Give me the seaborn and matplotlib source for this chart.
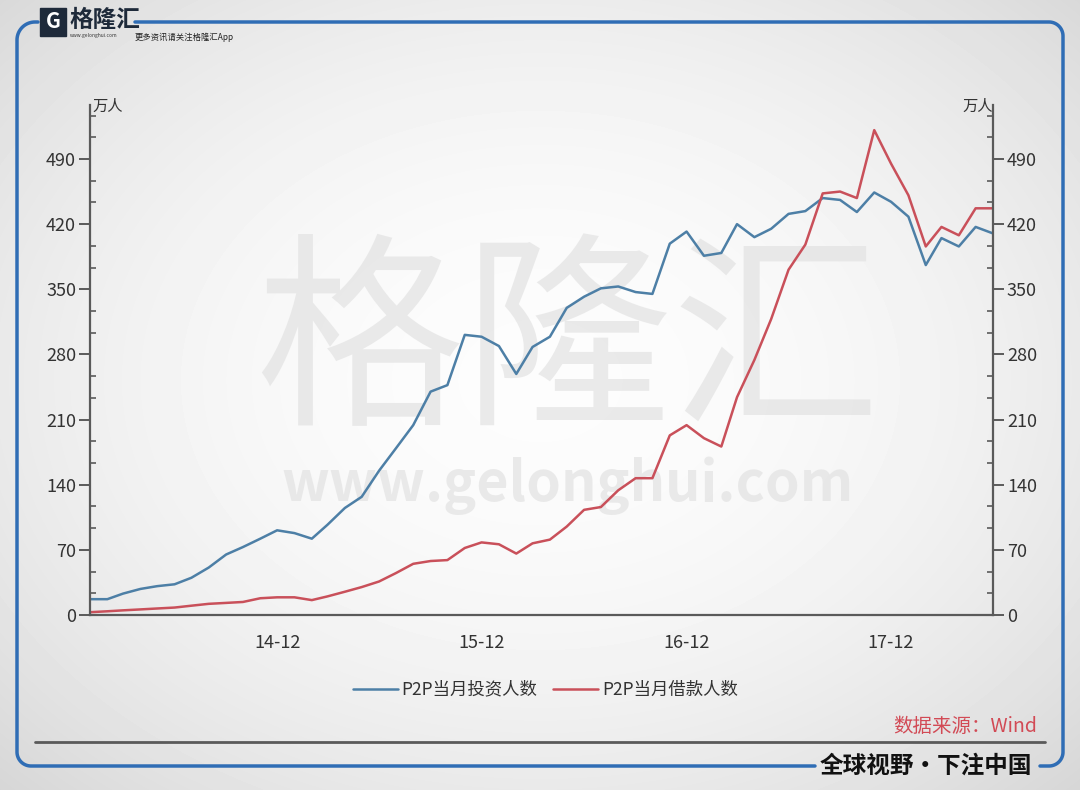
import matplotlib
matplotlib.use("Agg")
import matplotlib.pyplot as plt
import matplotlib.dates as mdates
from matplotlib.ticker import MultipleLocator
import numpy as np
import pandas as pd
import seaborn as sns

# monthly data, 2014-01 .. 2018-06 (unit: 万人)
months = pd.date_range("2014-01-01", periods=54, freq="MS")
investors = [
    17, 17, 23, 28, 31, 33, 40, 51, 65, 73, 82, 91,
    88, 82, 97, 115, 127, 155, 179, 204, 240, 247, 301, 299,
    289, 259, 288, 299, 330, 342, 351, 353, 347, 345, 399, 412,
    386, 389, 420, 406, 415, 431, 434, 448, 446, 433, 454, 444,
    428, 376, 405, 396, 417, 410,
]
borrowers = [
    3, 4, 5, 6, 7, 8, 10, 12, 13, 14, 18, 19,
    19, 16, 20, 25, 30, 36, 45, 55, 58, 59, 72, 78,
    76, 66, 77, 81, 95, 113, 116, 134, 147, 147, 193, 204,
    190, 181, 234, 274, 318, 371, 398, 453, 455, 448, 521, 485,
    451, 396, 417, 408, 437, 437,
]
series_names = ["P2P当月投资人数", "P2P当月借款人数"]
series_colors = ["#4d7fa6", "#c9505a"]
y_ticks = [0, 70, 140, 210, 280, 350, 420, 490]

FONT = ["Noto Sans CJK SC", "DejaVu Sans"]


def build_frame():
    df = pd.concat([
        pd.DataFrame({"month": months, "value": investors, "series": series_names[0]}),
        pd.DataFrame({"month": months, "value": borrowers, "series": series_names[1]}),
    ])
    return df


def arc(cx, cy, r, a0, a1):
    t = np.radians(np.linspace(a0, a1, 20))
    return cx + r * np.cos(t), cy + r * np.sin(t)


def draw_background(fig):
    bg = fig.add_axes([0, 0, 1, 1], zorder=-10)
    yy, xx = np.mgrid[0:790, 0:1080]
    r = np.sqrt(((xx - 540) / 560.0) ** 2 + ((yy - 380) / 420.0) ** 2)
    shade = np.clip(0.99 - 0.08 * r ** 2, 0, 1)
    bg.imshow(shade, cmap="gray", vmin=0, vmax=1, extent=(0, 1080, 790, 0), aspect="auto")
    bg.set_xlim(0, 1080)
    bg.set_ylim(790, 0)
    bg.axis("off")

    blue = "#2f6db5"
    rad = 14
    # top + right side + bottom-right stub
    xs, ys = [135, 1063 - rad], [22, 22]
    ax_, ay_ = arc(1063 - rad, 22 + rad, rad, -90, 0)
    xs += list(ax_); ys += list(ay_)
    xs += [1063]; ys += [766 - rad]
    ax_, ay_ = arc(1063 - rad, 766 - rad, rad, 0, 90)
    xs += list(ax_); ys += list(ay_)
    xs += [1040]; ys += [766]
    bg.plot(xs, ys, color=blue, lw=2.5, solid_capstyle="round")
    # bottom-left + left side + top-left stub
    xs, ys = [815, 17 + rad], [766, 766]
    ax_, ay_ = arc(17 + rad, 766 - rad, rad, 90, 180)
    xs += list(ax_); ys += list(ay_)
    xs += [17]; ys += [22 + 18]
    ax_, ay_ = arc(17 + 18, 22 + 18, 18, 180, 270)
    xs += list(ax_); ys += list(ay_)
    xs += [38]; ys += [22]
    bg.plot(xs, ys, color=blue, lw=2.5, solid_capstyle="round")

    # gray rule above footer
    bg.plot([35, 1045], [742, 742], color="#5a5a5a", lw=2)

    # logo
    bg.add_patch(plt.Rectangle((40, 8), 26, 28, color="#1e2a3a"))
    bg.text(53, 22, "G", color="white", fontsize=15, fontweight="bold",
            ha="center", va="center", family=FONT)
    bg.text(70, 20, "格隆汇", fontsize=17, fontweight="bold", color="#1e2a3a",
            ha="left", va="center", family=FONT)
    bg.text(70, 36, "www.gelonghui.com", fontsize=3.5, color="#333333",
            ha="left", va="center", family=FONT)
    bg.text(135, 37, "更多资讯请关注格隆汇App", fontsize=6, color="#222222",
            ha="left", va="center", family=FONT)

    # watermark
    bg.text(568, 350, "格隆汇", fontsize=150, color="#e2e2e2", alpha=0.7,
            ha="center", va="center", family=FONT)
    bg.text(568, 486, "www.gelonghui.com", fontsize=40, fontweight="bold",
            color="#e2e2e2", alpha=0.7, ha="center", va="center", family=FONT)

    # unit labels
    bg.text(92, 106, "万人", fontsize=11, color="#333333", ha="left", va="center", family=FONT)
    bg.text(993, 106, "万人", fontsize=11, color="#333333", ha="right", va="center", family=FONT)

    # footer texts
    bg.text(1037, 727, "数据来源：Wind", fontsize=14, color="#d24a55", style="italic",
            ha="right", va="center", family=FONT)
    bg.text(926, 766, "全球视野·下注中国", fontsize=17, fontweight="bold", color="#111111",
            ha="center", va="center", family=FONT)
    return bg


def main():
    sns.set_theme(style="white")
    plt.rcParams["font.family"] = FONT
    plt.rcParams["axes.unicode_minus"] = False

    fig = plt.figure(figsize=(10.8, 7.9), dpi=100)
    draw_background(fig)

    ax = fig.add_axes([90 / 1080, 175 / 790, 903 / 1080, 510 / 790])
    ax.patch.set_alpha(0)

    df = build_frame()
    sns.lineplot(data=df, x="month", y="value", hue="series",
                 palette=dict(zip(series_names, series_colors)),
                 linewidth=1.8, ax=ax)

    ax.set_xlim(months[0], months[-1])
    ax.set_ylim(0, 548)
    ax.set_xlabel("")
    ax.set_ylabel("")

    ax.xaxis.set_major_locator(mdates.MonthLocator(bymonth=12))
    ax.xaxis.set_minor_locator(mdates.MonthLocator(bymonth=[3, 6, 9, 12]))
    ax.xaxis.set_major_formatter(mdates.DateFormatter("%y-%m"))
    ax.set_yticks(y_ticks)
    ax.yaxis.set_minor_locator(MultipleLocator(70 / 3))

    for side in ["left", "right", "bottom"]:
        ax.spines[side].set_visible(True)
        ax.spines[side].set_color("#5a5a5a")
        ax.spines[side].set_linewidth(1.6)
    ax.spines["top"].set_visible(False)

    ax.tick_params(axis="x", which="major", direction="out", length=9, width=1.4,
                   color="#5a5a5a", labelsize=13, labelcolor="#333333", pad=5)
    ax.tick_params(axis="x", which="minor", direction="out", length=5, width=1.4,
                   color="#5a5a5a")
    ax.tick_params(axis="y", which="major", direction="out", length=8, width=1.4,
                   color="#5a5a5a", labelsize=13, labelcolor="#333333",
                   left=True, right=True, labelleft=True, labelright=True, pad=2)
    ax.tick_params(axis="y", which="minor", direction="in", length=4, width=1.2,
                   color="#5a5a5a", left=True, right=True)

    handles, labels = ax.get_legend_handles_labels()
    ax.legend(handles, labels, loc="center", ncol=2, frameon=False,
              bbox_to_anchor=(0.505, 0.127), bbox_transform=fig.transFigure,
              fontsize=12.5, handlelength=2.6, columnspacing=0.9, handletextpad=0.2)
    for txt in ax.get_legend().get_texts():
        txt.set_color("#333333")

    fig.savefig("out.png", dpi=100)
    plt.close(fig)


if __name__ == "__main__":
    main()
